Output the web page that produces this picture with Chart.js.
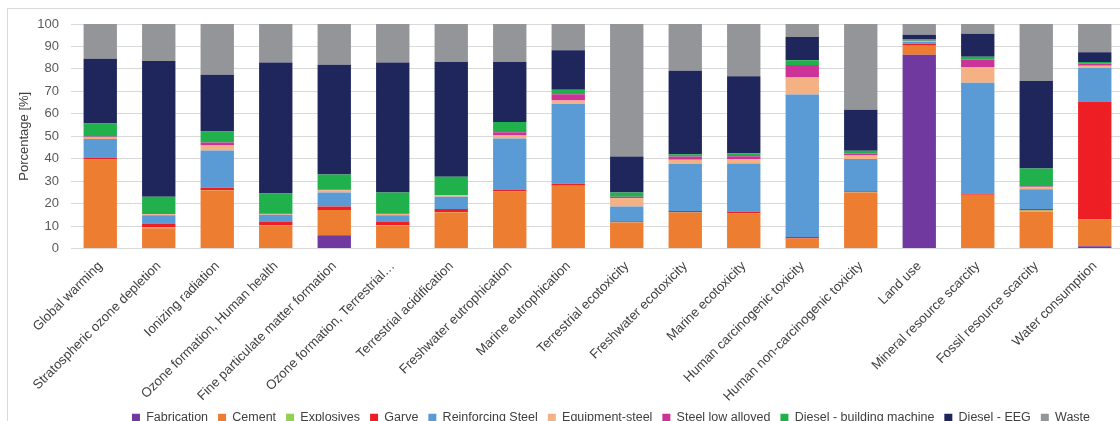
<!DOCTYPE html>
<html lang="en">
<head>
    <meta charset="UTF-8">
    <title>Impact contribution</title>
    <script src="https://cdn.jsdelivr.net/npm/chart.js"></script>
    <style>
        body { margin: 0; overflow: hidden; background: #fff; }
        #frame { position: absolute; left: 7px; top: 8px; width: 1300px; height: 500px;
                 border-left: 1px solid #d9d9d9; border-top: 1px solid #d9d9d9; }
        #wrap { position: absolute; left: 0; top: 0; width: 1222px; height: 434px; }
    </style>
</head>
<body>
<div id="frame"></div>
<div id="wrap">
    <canvas id="myChart"></canvas>
</div>
<script>
    // categories (x axis)
    const categories = ['Global warming', 'Stratospheric ozone depletion', 'Ionizing radiation',
        'Ozone formation, Human health', 'Fine particulate matter formation', 'Ozone formation, Terrestrial\u2026',
        'Terrestrial acidification', 'Freshwater eutrophication', 'Marine eutrophication',
        'Terrestrial ecotoxicity', 'Freshwater ecotoxicity', 'Marine ecotoxicity',
        'Human carcinogenic toxicity', 'Human non-carcinogenic toxicity', 'Land use',
        'Mineral resource scarcity', 'Fossil resource scarcity', 'Water consumption'];

    // series values, %
    const fabrication = [0, 0, 0, 0, 5.9, 0, 0, 0, 0, 0, 0, 0, 0, 0, 86.3, 0, 0, 1.0];
    const cement      = [39.7, 9.0, 26.0, 10.4, 11.2, 10.3, 16.2, 25.3, 27.8, 11.6, 15.9, 15.5, 4.5, 25.0, 4.3, 23.9, 16.5, 11.9];
    const explosives  = [0.1, 0.6, 0.1, 0.1, 0.1, 0.1, 0.1, 0.1, 0.2, 0.1, 0.1, 0.1, 0, 0.1, 0, 0, 0.4, 0];
    const garve       = [0.7, 1.5, 1.0, 1.5, 1.5, 1.6, 1.3, 0.9, 0.8, 0.4, 0.7, 0.9, 0.6, 0.4, 0.6, 0.6, 0.7, 52.6];
    const reinfSteel  = [8.3, 3.7, 16.5, 3.0, 6.2, 2.8, 5.5, 22.7, 35.6, 6.6, 21.1, 21.4, 63.5, 14.4, 0.9, 49.3, 8.8, 14.9];
    const equipSteel  = [0.6, 0.5, 2.3, 0.4, 1.1, 0.6, 0.6, 1.3, 1.5, 3.7, 1.7, 2.0, 7.6, 1.5, 0.2, 7.0, 0.9, 1.0];
    const lowAlloyed  = [0.5, 0.1, 1.3, 0.1, 0.2, 0.1, 0.1, 1.5, 2.8, 0.7, 1.5, 1.2, 5.5, 0.9, 0.2, 3.4, 0.3, 0.9];
    const dieselBM    = [5.8, 7.6, 4.9, 9.0, 6.8, 9.4, 8.2, 4.5, 2.0, 1.8, 1.0, 1.3, 2.1, 1.2, 0.6, 1.2, 8.0, 0.8];
    const dieselEEG   = [28.8, 60.5, 25.3, 58.4, 48.9, 57.9, 51.1, 26.8, 17.6, 16.1, 37.2, 34.3, 10.4, 18.3, 2.1, 10.3, 39.0, 4.3];
    const waste       = [15.5, 16.5, 22.6, 17.1, 18.1, 17.2, 16.9, 16.9, 11.7, 59.0, 20.8, 23.3, 5.8, 38.2, 4.8, 4.3, 25.4, 12.6];

    // y ticks
    const yTicks = [0, 10, 20, 30, 40, 50, 60, 70, 80, 90, 100];

    const series = [
        { label: 'Fabrication', data: fabrication, color: '#7039a0' },
        { label: 'Cement', data: cement, color: '#ed7d31' },
        { label: 'Explosives', data: explosives, color: '#92d050' },
        { label: 'Garve', data: garve, color: '#ee1f24' },
        { label: 'Reinforcing Steel', data: reinfSteel, color: '#5b9bd5' },
        { label: 'Equipment-steel', data: equipSteel, color: '#f4b183' },
        { label: 'Steel low alloyed', data: lowAlloyed, color: '#cc3399' },
        { label: 'Diesel - building machine', data: dieselBM, color: '#21b14c' },
        { label: 'Diesel - EEG', data: dieselEEG, color: '#1f265c' },
        { label: 'Waste', data: waste, color: '#939598' }
    ];

    const ctx = document.querySelector('#myChart');
    new Chart(ctx, {
        type: 'bar',
        data: {
            labels: categories,
            datasets: series.map(s => ({
                label: s.label,
                data: s.data,
                backgroundColor: s.color,
                borderWidth: 0,
                barPercentage: 0.57,
                categoryPercentage: 1
            }))
        },
        options: {
            responsive: true,
            maintainAspectRatio: false,
            animation: false,
            layout: { padding: { left: 0, right: 0, top: 24, bottom: 0 } },
            plugins: {
                tooltip: { enabled: false },
                legend: {
                    position: 'bottom',
                    labels: {
                        boxWidth: 8,
                        boxHeight: 8,
                        padding: 10,
                        color: '#404040',
                        font: { family: 'Liberation Sans', size: 12.5 }
                    }
                }
            },
            scales: {
                x: {
                    stacked: true,
                    grid: { display: false },
                    border: { color: '#d9d9d9', width: 1 },
                    ticks: {
                        autoSkip: false,
                        minRotation: 45,
                        maxRotation: 45,
                        color: '#404040',
                        padding: 2,
                        font: { family: 'Liberation Sans', size: 13.2 }
                    },
                    afterFit: (scale) => { scale.height = 153; }
                },
                y: {
                    stacked: true,
                    min: 0,
                    max: 100,
                    afterBuildTicks: (scale) => { scale.ticks = yTicks.map(v => ({ value: v })); },
                    grid: { color: '#d9d9d9', drawTicks: false },
                    border: { display: false },
                    ticks: {
                        color: '#595959',
                        padding: 12,
                        font: { family: 'Liberation Sans', size: 13 }
                    },
                    title: {
                        display: true,
                        text: 'Porcentage [%]',
                        color: '#404040',
                        padding: { top: 17, bottom: 0 },
                        font: { family: 'Liberation Sans', size: 13 }
                    },
                    afterFit: (scale) => { scale.width = 71; }
                },
                // empty right axis: keeps the plot where it is in the original crop
                yr: {
                    position: 'right',
                    min: 0,
                    max: 100,
                    grid: { display: false },
                    border: { display: false },
                    ticks: { display: false },
                    afterFit: (scale) => { scale.width = 98; }
                }
            }
        }
    });
</script>
</body>
</html>
